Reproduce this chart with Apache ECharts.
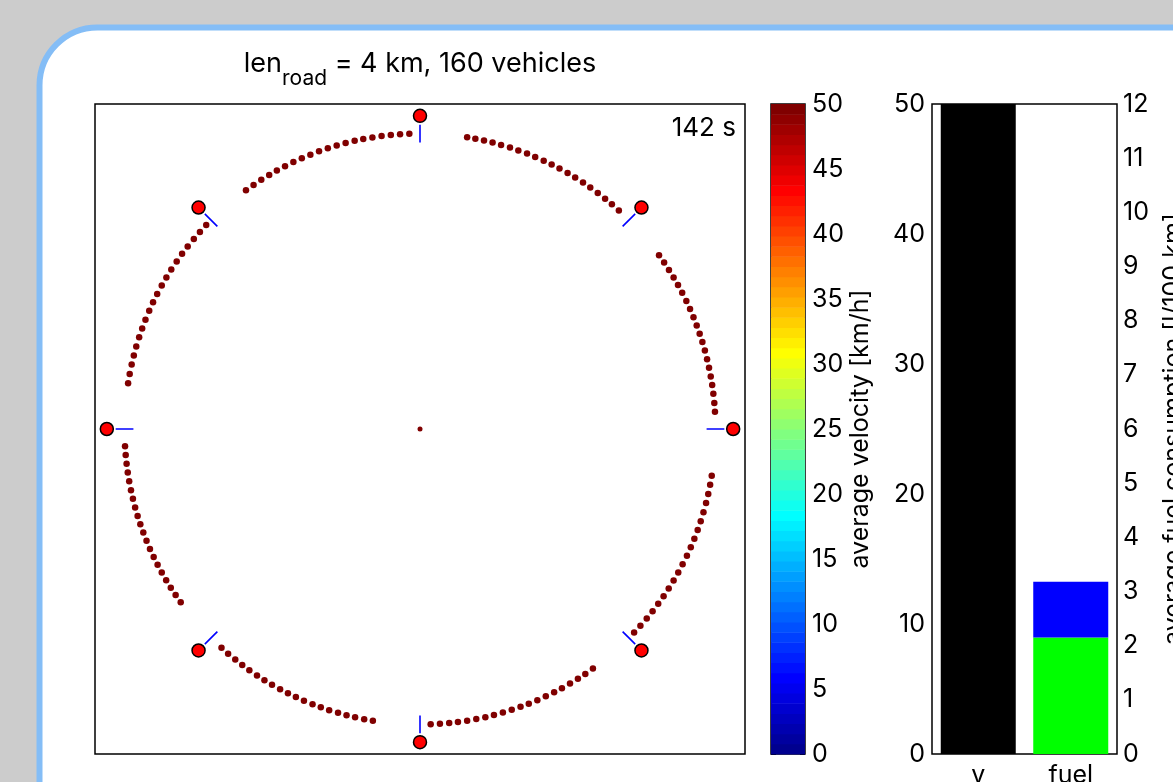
<!DOCTYPE html>
<html>
<head>
<meta charset="utf-8">
<script src="https://cdn.jsdelivr.net/npm/echarts@6/dist/echarts.min.js"></script>
<style>
  html, body { margin: 0; padding: 0; background: #cccccc; }
  #chart { width: 1173px; height: 782px; }
</style>
</head>
<body>
<div id="chart"></div>
<script>
// ---- ring road simulation snapshot ----
const ROAD_LENGTH = 4000;          // m
const VEHICLE_COUNT = 160;
const TIME_LABEL = '142 s';

// traffic lights, position along the road [m], measured clockwise from the top
const lightPositions = [0, 500, 1000, 1500, 2000, 2500, 3000, 3500];

// vehicle positions along the road [m], one list per block between two lights
const block0 = [102, 120, 139, 158, 177, 197, 216, 236, 255, 275, 294, 313, 333, 352, 372, 391, 411, 431, 450, 470];
const block1 = [600, 619, 638, 657, 676, 695, 715, 734, 753, 772, 791, 810, 829, 848, 867, 886, 905, 924, 944, 963];
const block2 = [1101, 1121, 1141, 1161, 1182, 1202, 1222, 1242, 1262, 1282, 1303, 1323, 1343, 1363, 1383, 1403, 1423, 1443, 1464, 1484];
const block3 = [1602, 1622, 1641, 1661, 1681, 1700, 1720, 1740, 1760, 1779, 1799, 1819, 1839, 1858, 1878, 1898, 1918, 1937, 1957, 1977];
const block4 = [2102, 2121, 2141, 2160, 2179, 2199, 2218, 2237, 2257, 2276, 2295, 2314, 2334, 2353, 2372, 2392, 2411, 2430, 2450, 2469];
const block5 = [2601, 2620, 2639, 2658, 2677, 2696, 2715, 2734, 2753, 2772, 2791, 2810, 2829, 2848, 2867, 2887, 2906, 2925, 2944, 2963];
const block6 = [3099, 3119, 3140, 3160, 3180, 3201, 3221, 3241, 3262, 3282, 3302, 3323, 3343, 3363, 3384, 3404, 3424, 3445, 3465, 3485];
const block7 = [3599, 3619, 3639, 3659, 3678, 3698, 3718, 3738, 3758, 3778, 3798, 3818, 3838, 3858, 3877, 3897, 3917, 3937, 3957, 3977];
const vehicleSpeed = 50;            // km/h, same for every vehicle at this instant

// colour bar
const speedMin = 0, speedMax = 50, speedTick = 5;

// summary bars
const barCategories = ['v', 'fuel'];
const avgVelocity = 50;             // km/h  (left axis)
const fuelMoving = 2.15;            // l/100 km (right axis)
const fuelIdle = 1.03;              // l/100 km (right axis)

// ---- helpers ----
const FONT = 'Inter';
const R = ROAD_LENGTH / (2 * Math.PI);       // road radius [m]

// MATLAB-style jet colormap with m entries
function jet(m) {
  const n = Math.ceil(m / 4);
  const u = [];
  for (let i = 1; i <= n; i++) u.push(i / n);
  for (let i = 0; i < n - 1; i++) u.push(1);
  for (let i = n; i >= 1; i--) u.push(i / n);
  const g0 = Math.ceil(n / 2) - (m % 4 === 1 ? 1 : 0);
  const J = [];
  for (let i = 0; i < m; i++) J.push([0, 0, 0]);
  for (let k = 0; k < u.length; k++) {
    const g = g0 + k + 1, r = g + n, b = g - n;
    if (r >= 1 && r <= m) J[r - 1][0] = u[k];
    if (g >= 1 && g <= m) J[g - 1][1] = u[k];
    if (b >= 1 && b <= m) J[b - 1][2] = u[k];
  }
  return J.map(c => 'rgb(' + c.map(x => Math.round(x * 255)).join(',') + ')');
}
const JET = jet(64);
function speedColor(v) {
  const idx = Math.min(JET.length - 1, Math.max(0, Math.floor((v - speedMin) / (speedMax - speedMin) * JET.length)));
  return JET[idx];
}
const colorLevels = JET.map((c, i) => [
  speedMin + i * (speedMax - speedMin) / JET.length,
  speedMin + (i + 1) * (speedMax - speedMin) / JET.length,
  i
]);

const vehicles = [].concat(block0, block1, block2, block3, block4, block5, block6, block7);
const vehicleData = vehicles.map(p => [R, p]);

const tickFont = { fontFamily: FONT, fontSize: 25, color: '#000' };

const stopLineSeries = lightPositions.map(p => ({
  type: 'line',
  coordinateSystem: 'polar',
  data: [[0.97 * R, p], [1.03 * R, p]],
  symbol: 'none',
  silent: true,
  lineStyle: { color: '#0000ff', width: 1.6, opacity: 1 },
  z: 3
}));

const gridBase = { show: true, borderColor: '#000', borderWidth: 1.5, backgroundColor: 'transparent', outerBoundsMode: 'none', containLabel: false };

const chart = echarts.init(document.getElementById('chart'));
chart.setOption({
  animation: false,
  backgroundColor: '#cccccc',
  graphic: [
    {
      type: 'rect', z: -10, silent: true,
      shape: { x: 39.5, y: 27.5, width: 1300, height: 900, r: 58 },
      style: { fill: '#ffffff', stroke: '#84bdf6', lineWidth: 6 }
    },
    {
      type: 'text', z: 10, silent: true,
      style: { text: TIME_LABEL, x: 736, y: 128, textAlign: 'right', textVerticalAlign: 'middle',
               font: '26px ' + FONT, fill: '#000' }
    }
  ],
  title: {
    text: '{a|len}{s|road}{a| = 4 km, ' + VEHICLE_COUNT + ' vehicles}',
    left: 420, top: 50, textAlign: 'center', padding: 0,
    textStyle: {
      fontWeight: 'normal',
      rich: {
        a: { fontFamily: FONT, fontSize: 27, fontWeight: 'normal', color: '#000', verticalAlign: 'bottom', padding: [0, 0, 12, 0] },
        s: { fontFamily: FONT, fontSize: 21, fontWeight: 'normal', color: '#000', verticalAlign: 'bottom' }
      }
    }
  },
  polar: { center: [420, 429], radius: 325 },
  angleAxis: { type: 'value', min: 0, max: ROAD_LENGTH, startAngle: 90, clockwise: true, show: false },
  radiusAxis: { type: 'value', min: 0, max: 1.1 * R, show: false },
  grid: [
    Object.assign({ left: 95, top: 104, width: 650, height: 650 }, gridBase),
    Object.assign({ left: 771, top: 104, width: 34, height: 650 }, gridBase),
    Object.assign({ left: 932, top: 104, width: 185, height: 650 }, gridBase)
  ],
  xAxis: [
    { gridIndex: 0, type: 'value', min: -1, max: 1, show: false },
    { gridIndex: 1, type: 'value', min: 0, max: 1, show: false },
    {
      gridIndex: 2, type: 'category', data: barCategories,
      axisLine: { show: false }, axisTick: { show: false },
      axisLabel: Object.assign({ margin: 9 }, tickFont)
    }
  ],
  yAxis: [
    { gridIndex: 0, type: 'value', min: -1, max: 1, show: false },
    {
      gridIndex: 1, type: 'value', position: 'left', min: speedMin, max: speedMax, interval: speedTick,
      axisLine: { show: false }, splitLine: { show: false }, axisLabel: { show: false },
      axisTick: { inside: true, length: 5, lineStyle: { color: '#000' } }
    },
    {
      gridIndex: 1, type: 'value', position: 'right', min: speedMin, max: speedMax, interval: speedTick,
      axisLine: { show: false }, splitLine: { show: false },
      axisTick: { inside: true, length: 5, lineStyle: { color: '#000' } },
      axisLabel: Object.assign({ margin: 7 }, tickFont),
      name: 'average velocity [km/h]', nameLocation: 'middle', nameRotate: 90, nameGap: 41,
      nameTextStyle: { fontFamily: FONT, fontSize: 25, color: '#000' }
    },
    {
      gridIndex: 2, type: 'value', position: 'left', min: 0, max: 50, interval: 10,
      axisLine: { show: false }, splitLine: { show: false },
      axisTick: { inside: true, length: 6, lineStyle: { color: '#000' } },
      axisLabel: Object.assign({ margin: 7 }, tickFont)
    },
    {
      gridIndex: 2, type: 'value', position: 'right', min: 0, max: 12, interval: 1,
      axisLine: { show: false }, splitLine: { show: false },
      axisTick: { inside: true, length: 6, lineStyle: { color: '#000' } },
      axisLabel: Object.assign({ margin: 6 }, tickFont),
      name: 'average fuel consumption [l/100 km]', nameLocation: 'middle', nameRotate: 90, nameGap: 44,
      nameTextStyle: { fontFamily: FONT, fontSize: 25, color: '#000' }
    }
  ],
  series: [
    {
      type: 'custom', xAxisIndex: 1, yAxisIndex: 1, silent: true,
      data: colorLevels,
      renderItem: function (params, api) {
        const p0 = api.coord([0, api.value(0)]);
        const p1 = api.coord([1, api.value(1)]);
        return {
          type: 'rect',
          shape: { x: p0[0], y: p1[1], width: p1[0] - p0[0], height: p0[1] - p1[1] + 0.5 },
          style: { fill: JET[api.value(2)] }
        };
      },
      z: 1
    },
    {
      type: 'bar', xAxisIndex: 2, yAxisIndex: 3, data: [avgVelocity, '-'],
      barWidth: 75, barGap: '-100%', itemStyle: { color: '#000000', opacity: 1 }, silent: true
    },
    {
      type: 'bar', xAxisIndex: 2, yAxisIndex: 4, data: ['-', fuelMoving], stack: 'fuel',
      barWidth: 75, barGap: '-100%', itemStyle: { color: '#00ff00', opacity: 1 }, silent: true
    },
    {
      type: 'bar', xAxisIndex: 2, yAxisIndex: 4, data: ['-', fuelIdle], stack: 'fuel',
      barWidth: 75, barGap: '-100%', itemStyle: { color: '#0000ff', opacity: 1 }, silent: true
    },
    {
      type: 'scatter', coordinateSystem: 'polar', data: vehicleData,
      symbolSize: 6.5, itemStyle: { color: speedColor(vehicleSpeed), opacity: 1 }, silent: true, z: 4
    },
    {
      type: 'scatter', coordinateSystem: 'polar', data: [[0, 0]],
      symbolSize: 5, itemStyle: { color: speedColor(vehicleSpeed), opacity: 1 }, silent: true, z: 4
    }
  ].concat(stopLineSeries, [
    {
      type: 'scatter', coordinateSystem: 'polar', data: lightPositions.map(p => [1.06 * R, p]),
      symbolSize: 13, itemStyle: { color: '#ff0000', borderColor: '#000', borderWidth: 1.5, opacity: 1 }, silent: true, z: 5
    }
  ])
});
</script>
</body>
</html>
